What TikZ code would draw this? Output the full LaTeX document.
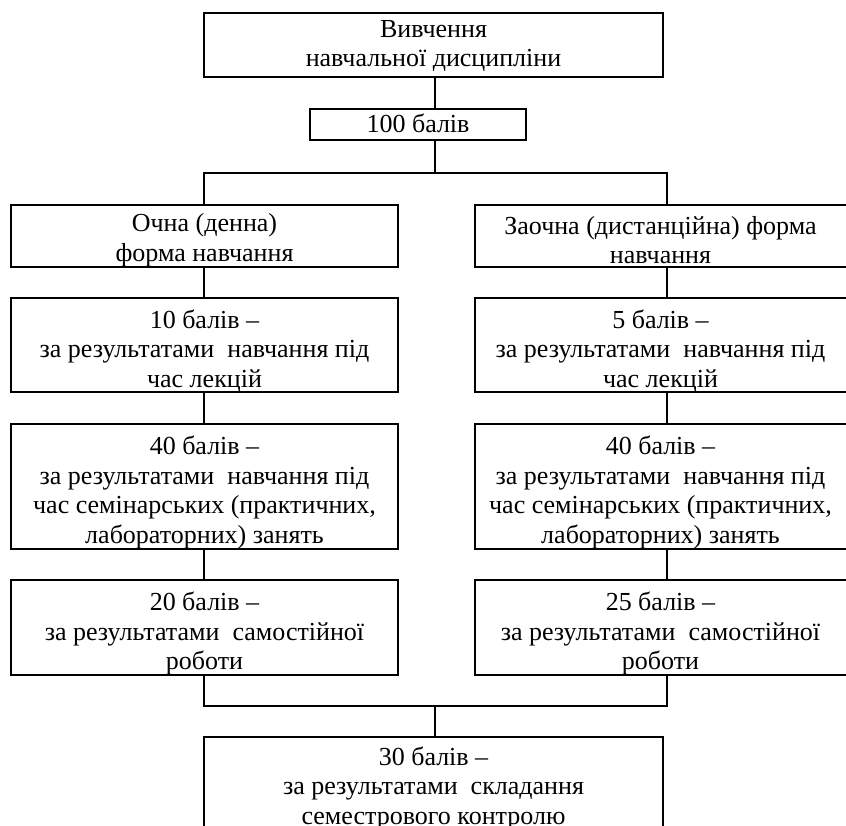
\documentclass[tikz,border=0pt]{standalone}
\usepackage{fontspec}
\setmainfont{Liberation Serif}
\begin{document}
\begin{tikzpicture}[x=1pt,y=1pt,
  box/.style={draw,line width=2.2pt,inner sep=0pt},
  txt/.style={inner sep=0pt,align=center,font=\fontsize{26}{29.5}\selectfont},
  conn/.style={line width=1.6pt}]
\useasboundingbox (0,0) rectangle (846,-825);
\clip (0,0) rectangle (846,-825);
% boxes
\node[box,minimum width=459pt,minimum height=64pt] (top) at (433.5,-44.9) {};
\node[box,minimum width=216pt,minimum height=31pt] (b100) at (418,-124.5) {};
\node[box,minimum width=387pt,minimum height=62pt] (l1) at (204.5,-236) {};
\node[box,minimum width=383pt,minimum height=62pt] (r1) at (666.5,-236) {};
\node[box,minimum width=387pt,minimum height=94pt] (l2) at (204.5,-345) {};
\node[box,minimum width=383pt,minimum height=94pt] (r2) at (666.5,-345) {};
\node[box,minimum width=387pt,minimum height=125pt] (l3) at (204.5,-486.5) {};
\node[box,minimum width=383pt,minimum height=125pt] (r3) at (666.5,-486.5) {};
\node[box,minimum width=387pt,minimum height=95pt] (l4) at (204.5,-627.5) {};
\node[box,minimum width=383pt,minimum height=95pt] (r4) at (666.5,-627.5) {};
\node[box,minimum width=459pt,minimum height=94pt] (bot) at (433.5,-784) {};
% texts
\node[txt] (topt) at ([yshift=-1pt]top.center) {Вивчення\\навчальної дисципліни};
\node[txt] (b100t) at ([yshift=1pt]b100.center) {100 балів};
\node[txt] (l1t) at ([yshift=-4pt]l1.center) {Очна (денна)\\форма навчання};
\node[txt] (r1t) at ([xshift=-6pt,yshift=-4pt]r1.center) {Заочна (дистанційна) форма\\навчання};
\node[txt] (l2t) at ([yshift=-6pt]l2.center) {10 балів –\\за результатами\ \ навчання під\\час лекцій};
\node[txt] (r2t) at ([xshift=-6pt,yshift=-6pt]r2.center) {5 балів –\\за результатами\ \ навчання під\\час лекцій};
\node[txt] (l3t) at ([yshift=-6pt]l3.center) {40 балів –\\за результатами\ \ навчання під\\час семінарських (практичних,\\лабораторних) занять};
\node[txt] (r3t) at ([xshift=-6pt,yshift=-6pt]r3.center) {40 балів –\\за результатами\ \ навчання під\\час семінарських (практичних,\\лабораторних) занять};
\node[txt] (l4t) at ([yshift=-6pt]l4.center) {20 балів –\\за результатами\ \ самостійної\\роботи};
\node[txt] (r4t) at ([xshift=-6pt,yshift=-6pt]r4.center) {25 балів –\\за результатами\ \ самостійної\\роботи};
\node[txt] (bott) at ([yshift=-4pt]bot.center) {30 балів –\\за результатами\ \ складання\\семестрового контролю};
% connectors
\coordinate (jt) at (435,-173);
\coordinate (jb) at (435,-706);
\coordinate (lx) at (204,0);
\coordinate (rx) at (667,0);
\draw[conn] (top.south -| jt) -- (b100.north -| jt);
\draw[conn] (b100.south -| jt) -- (jt);
\draw[conn] (l1.north -| lx) -- (jt -| lx) -- (jt -| rx) -- (r1.north -| rx);
\draw[conn] (l1.south -| lx) -- (l2.north -| lx);
\draw[conn] (l2.south -| lx) -- (l3.north -| lx);
\draw[conn] (l3.south -| lx) -- (l4.north -| lx);
\draw[conn] (r1.south -| rx) -- (r2.north -| rx);
\draw[conn] (r2.south -| rx) -- (r3.north -| rx);
\draw[conn] (r3.south -| rx) -- (r4.north -| rx);
\draw[conn] (l4.south -| lx) -- (jb -| lx) -- (jb -| rx) -- (r4.south -| rx);
\draw[conn] (jb) -- (bot.north -| jb);
\end{tikzpicture}
\end{document}
